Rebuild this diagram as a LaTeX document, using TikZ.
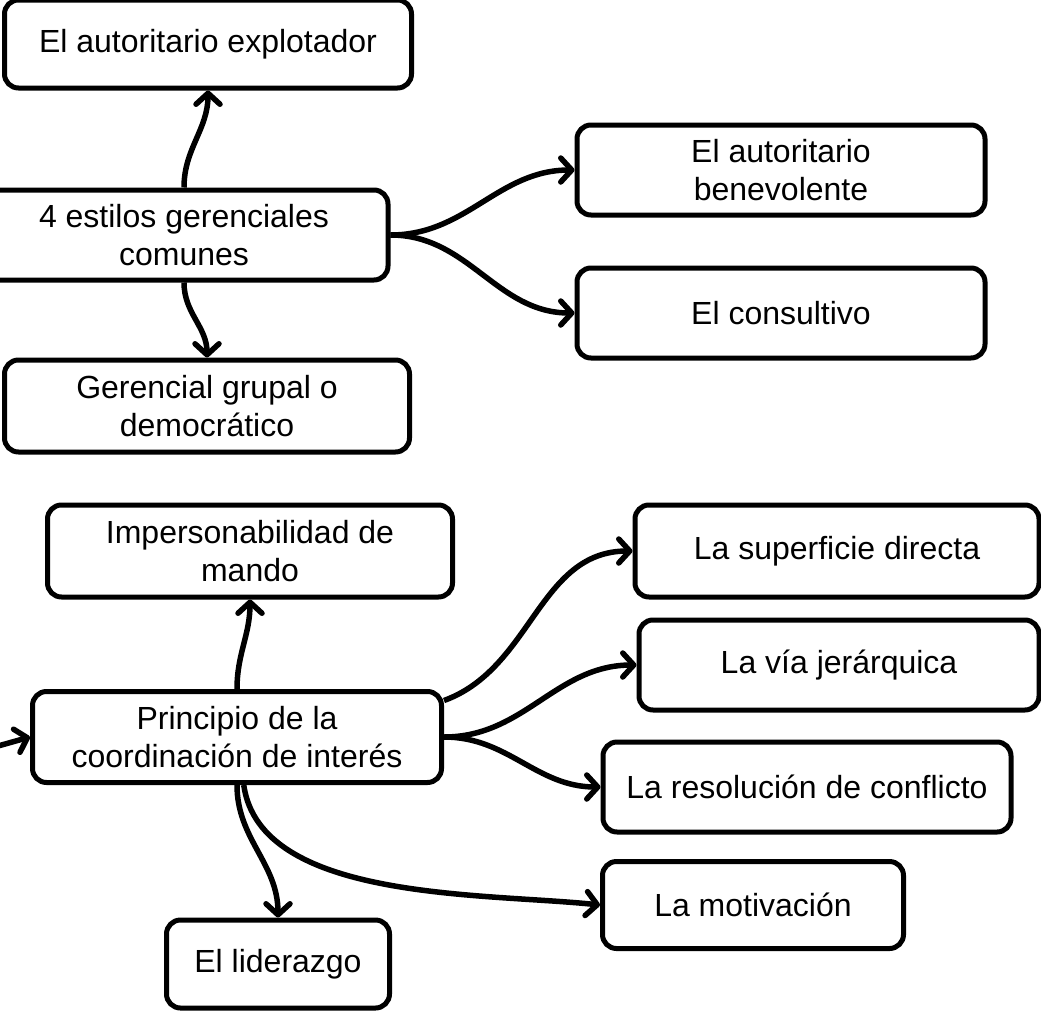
\documentclass[tikz,border=0pt]{standalone}
\usepackage{fontspec}
\setmainfont{Liberation Sans}
\usetikzlibrary{arrows.meta}

\begin{document}
\begin{tikzpicture}[x=1pt,y=-1pt,
    idea/.style={draw,line width=5pt,rounded corners=14pt,align=center,inner sep=0pt,
      minimum height=90pt,font=\fontsize{32}{38}\selectfont},
    link/.style={line width=5.5pt,-{Straight Barb[length=11pt,width=24pt,round]}}]

    \useasboundingbox (0,0) rectangle (1041,1020);

    % Estilos gerenciales
    \node [idea,minimum width=407pt,minimum height=88pt] at (208,44) (explotador) {El autoritario explotador};
    \node [idea,minimum width=408pt] at (184,235) (estilos) {4 estilos gerenciales\\comunes};
    \node [idea,minimum width=405pt,minimum height=92pt] at (207,406) (grupal) {Gerencial grupal o\\democrático};
    \node [idea,minimum width=408pt] at (781,170) (benevolente) {El autoritario\\benevolente};
    \node [idea,minimum width=408pt] at (781,313) (consultivo) {El consultivo};

    % Principio de la coordinacion
    \node [idea,minimum width=405pt,minimum height=92pt] at (250,551) (mando) {Impersonabilidad de\\mando};
    \node [idea,minimum width=404pt,minimum height=92pt] at (837,551) (superficie) {La superficie directa};
    \node [idea,minimum width=400pt] at (839,665) (jerarquica) {La vía jerárquica};
    \node [idea,minimum width=409pt,minimum height=91pt] at (237,737) (principio) {Principio de la\\coordinación de interés};
    \node [idea,minimum width=408pt] at (807,787) (conflicto) {La resolución de conflicto};
    \node [idea,minimum width=301pt,minimum height=87pt] at (753,905) (motivacion) {La motivación};
    \node [idea,minimum width=223pt,minimum height=88pt] at (278,964) (liderazgo) {El liderazgo};

    \coordinate (entrada) at (-2,746);

    % Flechas
    \path[link]
    (estilos) edge[out=90,in=-90] (explotador)
    (estilos) edge[out=-90,in=90] (grupal)
    (estilos.east) edge[out=0,in=180] (benevolente.west)
    (estilos.east) edge[out=0,in=180] (consultivo.west);

    \path[link]
    (entrada) edge (principio.west)
    (principio) edge[out=90,in=-90] (mando)
    (principio.10) edge[out=20,in=180] (superficie.west)
    (principio.east) edge[out=0,in=180] (jerarquica.west)
    (principio.east) edge[out=0,in=180] (conflicto.west)
    (principio) edge[out=-82,in=174,looseness=0.8] (motivacion.west)
    (principio) edge[out=-90,in=90] (liderazgo);

\end{tikzpicture}
\end{document}
